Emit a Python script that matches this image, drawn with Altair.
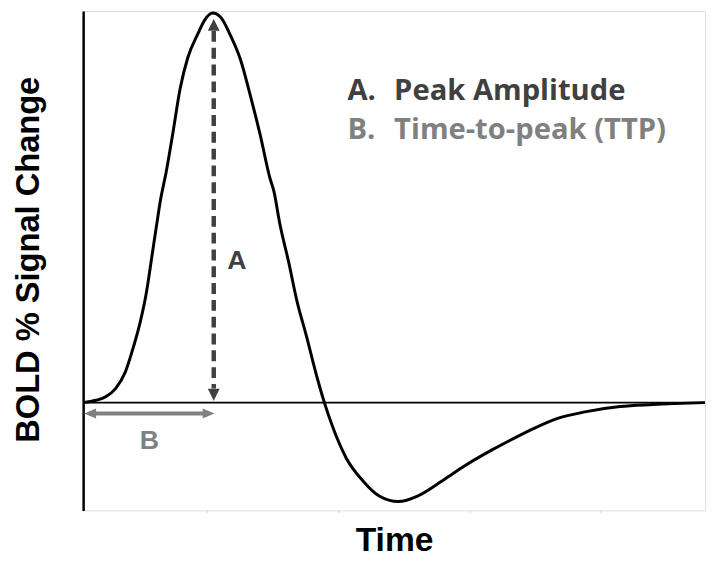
import altair as alt
import pandas as pd

# HRF curve (time in s, BOLD % signal change, peak = 1)
time_s = [0.0, 0.49, 0.87, 1.25, 1.63, 1.95, 2.20, 2.44, 2.67, 2.86, 2.98, 3.21, 3.47,
          3.74, 4.04, 4.43, 4.69, 5.00, 5.30, 5.69, 6.07, 6.45, 6.83, 7.21, 7.36, 7.59,
          7.94, 8.24, 8.62, 9.01, 9.31, 9.65, 10.15, 10.80, 11.41, 12.17, 12.93, 13.85,
          14.73, 15.76, 16.64, 17.40, 18.28, 19.42, 20.72, 21.98, 24.0]
bold_pct = [0.0, 0.006, 0.015, 0.036, 0.079, 0.145, 0.206, 0.282, 0.383, 0.467, 0.518,
            0.594, 0.695, 0.805, 0.886, 0.947, 0.982, 1.0, 0.990, 0.942, 0.881, 0.789,
            0.688, 0.576, 0.543, 0.459, 0.358, 0.264, 0.170, 0.069, 0.0, -0.066, -0.142,
            -0.201, -0.239, -0.254, -0.239, -0.201, -0.162, -0.122, -0.091, -0.066,
            -0.041, -0.023, -0.010, -0.005, 0.0]

# faint grid tick positions along time
grid_ticks = [4.77, 9.84, 14.92, 19.96]

# annotation arrows
amp_t = 5.04
amp_line = [0.954, 0.036]
amp_tips = [0.985, 0.005]
ttp_v = -0.028
ttp_line = [0.23, 4.85]
ttp_tips = [0.04, 5.07]

# text labels
label_a = ("A", 5.93, 0.343)
label_b = ("B", 2.556, -0.119)
legend_marker = ["A.", "B."]
legend_text = ["Peak Amplitude", "Time-to-peak (TTP)"]
legend_v = [0.777, 0.677]
legend_marker_t = 10.2
legend_text_t = 12.0

DARK = "#404040"
GRAY = "#808080"

xs = alt.Scale(domain=[0, 24], nice=False, zero=False)
ys = alt.Scale(domain=[-0.27665, 1.00508], nice=False, zero=False)

curve_df = pd.DataFrame({"t": time_s, "v": bold_pct})

base_x_axis = alt.Axis(domain=False, labels=False, grid=False, values=grid_ticks,
                       ticks=True, tickColor="#cfcfcf", tickSize=2, tickWidth=1,
                       title="Time", titleFont="Liberation Sans", titleFontSize=34,
                       titleFontWeight="bold", titleColor="black",
                       titleBaseline="alphabetic", titleAlign="center",
                       titleX=314.5, titleY=41)
base_y_axis = alt.Axis(domain=True, domainColor="black", domainWidth=2.5,
                       labels=False, ticks=False, grid=False,
                       title="BOLD % Signal Change", titleFont="Liberation Sans",
                       titleFontSize=33, titleFontWeight="bold", titleColor="black",
                       titleAngle=270, titleBaseline="alphabetic", titleAlign="center",
                       titleX=-45, titleY=251)

curve = alt.Chart(curve_df).mark_line(
    interpolate="monotone", color="black", strokeWidth=3
).encode(
    x=alt.X("t:Q", scale=xs, axis=base_x_axis),
    y=alt.Y("v:Q", scale=ys, axis=base_y_axis),
)

zero_df = pd.DataFrame({"t0": [0.0], "t1": [24.0], "v": [0.0]})
zero_line = alt.Chart(zero_df).mark_rule(color="black", strokeWidth=2).encode(
    x=alt.X("t0:Q", scale=xs), x2="t1:Q", y=alt.Y("v:Q", scale=ys)
)

amp_df = pd.DataFrame({"t": [amp_t], "v0": [amp_line[0]], "v1": [amp_line[1]]})
amp_rule = alt.Chart(amp_df).mark_rule(
    color=DARK, strokeWidth=4.5, strokeDash=[11, 6]
).encode(x=alt.X("t:Q", scale=xs), y=alt.Y("v0:Q", scale=ys), y2="v1:Q")

amp_up = alt.Chart(pd.DataFrame({"t": [amp_t], "v": [amp_tips[0]]})).mark_point(
    shape="M0,0L0.5,1L-0.5,1Z", size=576, filled=True, opacity=1, color=DARK
).encode(x=alt.X("t:Q", scale=xs), y=alt.Y("v:Q", scale=ys))
amp_down = alt.Chart(pd.DataFrame({"t": [amp_t], "v": [amp_tips[1]]})).mark_point(
    shape="M0,0L0.5,-1L-0.5,-1Z", size=576, filled=True, opacity=1, color=DARK
).encode(x=alt.X("t:Q", scale=xs), y=alt.Y("v:Q", scale=ys))

ttp_df = pd.DataFrame({"t0": [ttp_line[0]], "t1": [ttp_line[1]], "v": [ttp_v]})
ttp_rule = alt.Chart(ttp_df).mark_rule(color=GRAY, strokeWidth=4).encode(
    x=alt.X("t0:Q", scale=xs), x2="t1:Q", y=alt.Y("v:Q", scale=ys)
)
ttp_left = alt.Chart(pd.DataFrame({"t": [ttp_tips[0]], "v": [ttp_v]})).mark_point(
    shape="M0,0L1,-0.42L1,0.42Z", size=576, filled=True, opacity=1, color=GRAY
).encode(x=alt.X("t:Q", scale=xs), y=alt.Y("v:Q", scale=ys))
ttp_right = alt.Chart(pd.DataFrame({"t": [ttp_tips[1]], "v": [ttp_v]})).mark_point(
    shape="M0,0L-1,-0.42L-1,0.42Z", size=576, filled=True, opacity=1, color=GRAY
).encode(x=alt.X("t:Q", scale=xs), y=alt.Y("v:Q", scale=ys))

lab_df = pd.DataFrame({"txt": [label_a[0], label_b[0]], "t": [label_a[1], label_b[1]],
                       "v": [label_a[2], label_b[2]], "c": [DARK, GRAY]})
labels = alt.Chart(lab_df).mark_text(
    font="Liberation Sans", fontSize=27, fontWeight="bold", align="center",
    baseline="alphabetic"
).encode(x=alt.X("t:Q", scale=xs), y=alt.Y("v:Q", scale=ys), text="txt:N",
         color=alt.Color("c:N", scale=None))

leg_df = pd.DataFrame({
    "m": legend_marker, "txt": legend_text, "v": legend_v,
    "tm": [legend_marker_t] * 2, "tt": [legend_text_t] * 2, "c": [DARK, GRAY]})
leg_m = alt.Chart(leg_df).mark_text(
    font="Open Sans", fontSize=29.5, fontWeight="bold", align="left", baseline="alphabetic"
).encode(x=alt.X("tm:Q", scale=xs), y=alt.Y("v:Q", scale=ys), text="m:N",
         color=alt.Color("c:N", scale=None))
leg_t = alt.Chart(leg_df).mark_text(
    font="Open Sans", fontSize=29.5, fontWeight="bold", align="left", baseline="alphabetic"
).encode(x=alt.X("tt:Q", scale=xs), y=alt.Y("v:Q", scale=ys), text="txt:N",
         color=alt.Color("c:N", scale=None))

chart = alt.layer(
    zero_line, curve, amp_rule, amp_up, amp_down, ttp_rule, ttp_left, ttp_right,
    labels, leg_m, leg_t
).properties(
    width=629, height=505,
    autosize=alt.AutoSizeParams(type="none"),
    padding={"left": 76, "top": 0, "right": 5, "bottom": 44},
).configure_view(stroke=None).configure(background="white")

chart.save("out.html", embed_options={"renderer": "svg", "actions": False})
